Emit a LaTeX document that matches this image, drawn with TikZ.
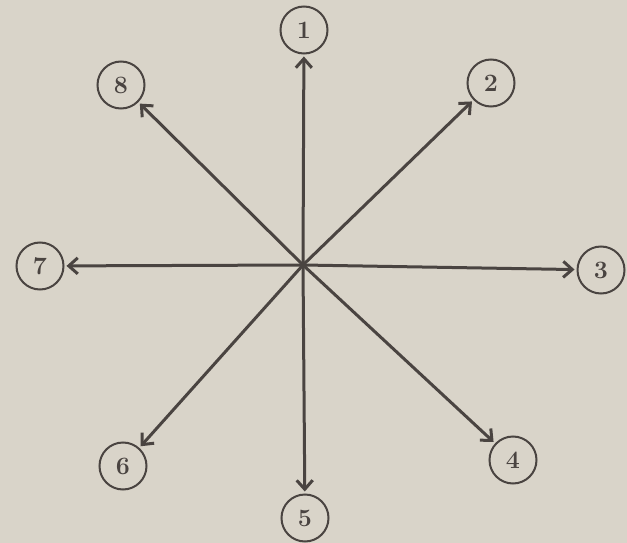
\documentclass[tikz,border=0pt]{standalone}
\usepackage{fontspec}
\usepackage{xcolor}
\usepackage{tikz}
\usetikzlibrary{arrows.meta, calc}
\definecolor{paperbg}{HTML}{D9D4C9}
\definecolor{inkdark}{HTML}{4A4441}

\begin{document}
\begin{tikzpicture}[
    x=1pt, y=-1pt,
    num/.style={circle, draw=inkdark, line width=2pt, minimum size=47pt, inner sep=0pt,
        text=inkdark, font=\fontsize{25}{27}\selectfont\bfseries},
    arr/.style={-{Straight Barb[length=9pt, width=16pt]}, line width=3pt, inkdark,
        shorten >=2pt}
]
    % paper background, fixes the page size
    \fill[paperbg] (0,0) rectangle (627,543);
    \useasboundingbox (0,0) rectangle (627,543);

    % centre of the star
    \coordinate (mid) at (303,265);

    % circled numbers, clockwise from the top
    \node[num] (n1) at (304,30) {1};
    \node[num] (n2) at (491,83) {2};
    \node[num] (n3) at (601,270) {3};
    \node[num] (n4) at (513,460) {4};
    \node[num] (n5) at (305,518) {5};
    \node[num] (n6) at (123,466) {6};
    \node[num] (n7) at (40,266) {7};
    \node[num] (n8) at (121,85) {8};

    % arrows out of the centre
    \foreach \n in {n1, n2, n3, n4, n5, n6, n7, n8}
        \draw[arr] (mid) -- (\n);
\end{tikzpicture}
\end{document}
